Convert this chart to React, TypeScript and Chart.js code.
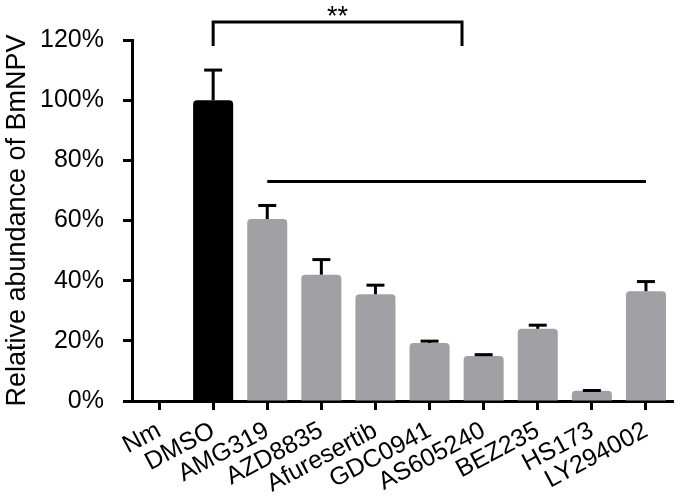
import React, { useEffect, useRef } from "react";
import { Chart, registerables } from "chart.js";

Chart.register(...registerables);

const categories = ["Nm", "DMSO", "AMG319", "AZD8835", "Afuresertib", "GDC0941", "AS605240", "BEZ235", "HS173", "LY294002"];
const values = [0, 100, 60.5, 42, 35.5, 19.3, 15, 24, 3.4, 36.5];
const errors = [0, 10, 4.5, 5, 3, 0.6, 0.4, 1.2, 0.1, 3.2];
const barColors = ["#a0a0a5", "#000000", "#a0a0a5", "#a0a0a5", "#a0a0a5", "#a0a0a5", "#a0a0a5", "#a0a0a5", "#a0a0a5", "#a0a0a5"];
const yTicks = [0, 20, 40, 60, 80, 100, 120];
const bracket = { from: 1, to: 5.6, level: 126, drop: 118, label: "**" };
const longLine = { from: 2, to: 9, level: 73 };

const FONT = "'Liberation Sans', Arial, Helvetica, sans-serif";

const annotPlugin = {
  id: "annot",
  afterDatasetsDraw(chart: any) {
    const ctx = chart.ctx;
    const x = chart.scales.x;
    const y = chart.scales.y;
    const meta = chart.getDatasetMeta(0);
    ctx.save();
    ctx.strokeStyle = "#000";
    ctx.lineWidth = 3;
    ctx.lineCap = "butt";
    meta.data.forEach((bar: any, i: number) => {
      if (!errors[i] && !values[i]) return;
      const cx = bar.x;
      const top = y.getPixelForValue(values[i] + errors[i]);
      const base = y.getPixelForValue(values[i]);
      ctx.beginPath();
      ctx.moveTo(cx, base);
      ctx.lineTo(cx, top);
      ctx.stroke();
      ctx.beginPath();
      ctx.moveTo(cx - 9, top);
      ctx.lineTo(cx + 9, top);
      ctx.stroke();
    });
    const bx1 = x.getPixelForValue(bracket.from);
    const bx2 = x.getPixelForValue(bracket.to);
    const by = y.getPixelForValue(bracket.level);
    const bd = y.getPixelForValue(bracket.drop);
    ctx.beginPath();
    ctx.moveTo(bx1, bd);
    ctx.lineTo(bx1, by);
    ctx.lineTo(bx2, by);
    ctx.lineTo(bx2, bd);
    ctx.stroke();
    ctx.fillStyle = "#000";
    ctx.font = "27px " + FONT;
    ctx.textAlign = "center";
    ctx.textBaseline = "alphabetic";
    ctx.fillText(bracket.label, (bx1 + bx2) / 2, by + 3);
    const lx1 = x.getPixelForValue(longLine.from);
    const lx2 = x.getPixelForValue(longLine.to);
    const ly = y.getPixelForValue(longLine.level);
    ctx.beginPath();
    ctx.moveTo(lx1, ly);
    ctx.lineTo(lx2, ly);
    ctx.stroke();
    ctx.restore();
  },
};

export default function App() {
  const ref = useRef<HTMLCanvasElement>(null);
  useEffect(() => {
    if (!ref.current) return;
    const chart = new Chart(ref.current, {
      type: "bar",
      data: {
        labels: categories,
        datasets: [
          {
            data: values,
            backgroundColor: barColors,
            borderRadius: 4,
            categoryPercentage: 1,
            barPercentage: 0.74,
          },
        ],
      },
      options: {
        responsive: false,
        animation: false,
        layout: { padding: { top: 40, right: 8, left: 0, bottom: 0 } },
        plugins: { legend: { display: false }, tooltip: { enabled: false } },
        scales: {
          x: {
            afterFit: (s: any) => {
              s.height = 101;
            },
            grid: { display: true, drawOnChartArea: false, drawTicks: true, tickLength: 9, tickWidth: 3, tickColor: "#000", offset: false },
            border: { display: true, width: 3, color: "#000" },
            ticks: {
              autoSkip: false,
              maxRotation: 28,
              minRotation: 28,
              color: "#000",
              padding: 6,
              font: { family: FONT, size: 25 },
            },
          },
          y: {
            min: 0,
            max: 120,
            afterFit: (s: any) => {
              s.width = 132;
            },
            afterBuildTicks: (s: any) => {
              s.ticks = yTicks.map((v) => ({ value: v }));
            },
            grid: { display: true, drawOnChartArea: false, drawTicks: true, tickLength: 9, tickWidth: 3, tickColor: "#000" },
            border: { display: true, width: 3, color: "#000" },
            ticks: {
              color: "#000",
              padding: 19,
              font: { family: FONT, size: 25 },
              callback: (v: any) => v + "%",
            },
            title: {
              display: true,
              text: "Relative abundance of BmNPV",
              color: "#000",
              font: { family: FONT, size: 27 },
              padding: { top: 1, bottom: 0 },
            },
          },
        },
      },
      plugins: [annotPlugin],
    });
    return () => chart.destroy();
  }, []);
  return (
    <div style={{ position: "fixed", left: 0, top: 0, width: 681, height: 502, background: "#fff" }}>
      <canvas ref={ref} width={681} height={502} />
    </div>
  );
}
